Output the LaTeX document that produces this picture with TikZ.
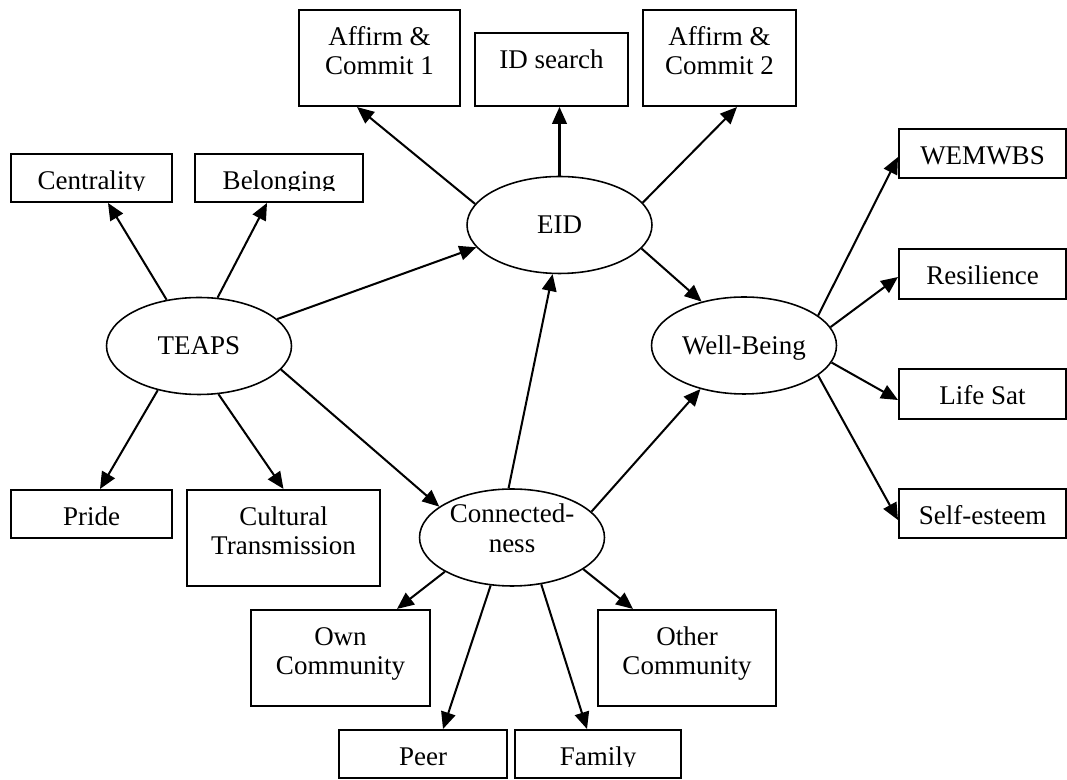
\documentclass[tikz,border=0pt]{standalone}
\usepackage{fontspec}
\setmainfont{Liberation Serif}
\usetikzlibrary{shapes.geometric,arrows.meta,calc}

\tikzset{
  box/.style={draw, line width=0.9pt, inner sep=0pt, text height=15.6pt, align=center},
  twoline/.style={box, text height=28.9pt, text depth=13.8pt},
  lat/.style={ellipse, draw, line width=0.7pt, inner sep=0pt, minimum width=82.2pt, minimum height=43.1pt, text depth=0pt},
  arr/.style={-{Triangle[length=7.5pt,width=6.5pt]}, line width=0.9pt}
}

\begin{document}
\begin{tikzpicture}[x=0.4444pt, y=-0.4444pt, font=\fontsize{12pt}{13.3pt}\selectfont]
  \useasboundingbox (0,0) rectangle (1067,780);
  % latent variables
  \node[lat] (teaps) at (199,346) {TEAPS};
  \node[lat] (eid)   at (559.5,225) {EID};
  \node[lat] (wb)    at (744,345.5) {Well-Being};
  \node[lat, align=center, text height=21.5pt, text depth=8.6pt] (conn) at (512,537.5) {Connected-\\ness};
  % EID indicators
  \node[twoline, minimum width=71.6pt] (aff1) at (379.5,58) {Affirm \&\\Commit 1};
  \node[box, minimum width=68pt, text depth=16.8pt] (ids) at (551.5,69.5) {ID search};
  \node[twoline, minimum width=68pt]   (aff2) at (719.5,58) {Affirm \&\\Commit 2};
  % TEAPS indicators
  \node[box, minimum width=71.6pt, text depth=5.7pt] (cen) at (91.5,178) {};
  \begin{scope}
    \clip (cen.north west) rectangle ([yshift=5.4pt]cen.south east);
    \node[box, draw=none, minimum width=71.6pt, text depth=5.7pt] (cen-t) at (cen) {Centrality};
  \end{scope}
  \node[box, minimum width=74.7pt, text depth=5.7pt] (bel) at (279,178) {};
  \begin{scope}
    \clip (bel.north west) rectangle ([yshift=5.4pt]bel.south east);
    \node[box, draw=none, minimum width=74.7pt, text depth=5.7pt] (bel-t) at (bel) {Belonging};
  \end{scope}
  \node[box, minimum width=71.6pt, text depth=5.7pt] (pride) at (91.5,514) {Pride};
  \node[twoline, minimum width=85.8pt] (cul) at (283.5,538) {Cultural\\Transmission};
  % Well-Being indicators
  \node[box, minimum width=74.2pt, text depth=6.2pt] (wem)  at (982.5,153.5) {WEMWBS};
  \node[box, minimum width=74.2pt, text depth=6.2pt] (res)  at (982.5,274) {Resilience};
  \node[box, minimum width=74.2pt, text depth=6.2pt] (lsat) at (982.5,394) {Life Sat};
  \node[box, minimum width=74.2pt, text depth=6.2pt] (self) at (982.5,513.5) {Self-esteem};
  % Connectedness indicators
  \node[twoline, minimum width=79.6pt] (own) at (340.5,658) {Own\\Community};
  \node[twoline, minimum width=79.1pt] (oth) at (687,658) {Other\\Community};
  \node[box, minimum width=74.7pt, text depth=5.7pt] (peer) at (423,754) {Peer};
  \node[box, minimum width=73.8pt, text depth=5.7pt] (fam) at (598,754) {};
  \begin{scope}
    \clip (fam.north west) rectangle ([yshift=5.4pt]fam.south east);
    \node[box, draw=none, minimum width=73.8pt, text depth=5.7pt] (fam-t) at (fam) {Family};
  \end{scope}
  % paths
  \draw[arr] (teaps.125.6) -- ($(cen.south)+(16.5,0)$);
  \draw[arr] (teaps.69.4)  -- ($(bel.south)+(-12,0)$);
  \draw[arr] (teaps.19.5)  -- (eid.195.9);
  \draw[arr] (teaps.344.7) -- (conn.157.9);
  \draw[arr] (teaps.227.7) -- ($(pride.north)+(8.5,0)$);
  \draw[arr] (teaps.292.6) -- (cul.north);
  \draw[arr] (eid.166.7) -- ($(aff1.south)+(-22.5,0)$);
  \draw[arr] (eid.north) -- (eid.north |- ids.south);
  \draw[arr] (eid.15) -- ($(aff2.south)+(17.5,0)$);
  \draw[arr] (eid.344.4) -- (wb.134.7);
  \draw[arr] (conn.94.6) -- (eid.262.3);
  \draw[arr] (conn.18.4) -- (wb.225.3);
  \draw[arr] (conn.207.6) -- ($(own.north)+(56.5,0)$);
  \draw[arr] (conn.246.4) -- ($(peer.north)+(20,0)$);
  \draw[arr] (conn.302)   -- ($(fam.north)+(-11,0)$);
  \draw[arr] (conn.336.3) -- ($(oth.north)+(-54,0)$);
  \draw[arr] (wb.22.4)  -- ($(wem.west)+(0,3.5)$);
  \draw[arr] (wb.12.1)  -- ($(res.west)+(0,3)$);
  \draw[arr] (wb.349.5) -- ($(lsat.west)+(0,6)$);
  \draw[arr] (wb.338.6) -- ($(self.west)+(0,6.5)$);
\end{tikzpicture}
\end{document}
